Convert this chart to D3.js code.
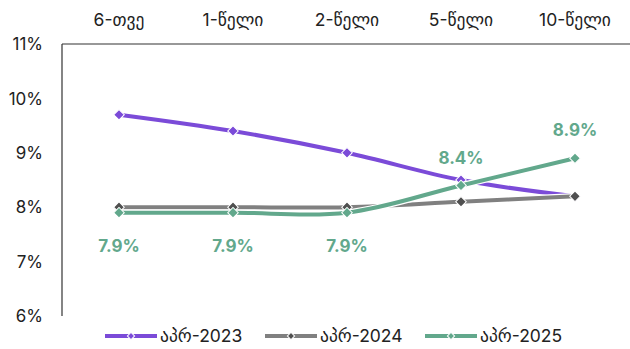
<!DOCTYPE html>
<html><head><meta charset="utf-8">
<script src="https://cdn.jsdelivr.net/npm/d3@7"></script>
<style>body{margin:0;background:#fff}svg{display:block;font-family:Inter,"DejaVu Sans",sans-serif}</style>
</head><body><svg id="c" width="630" height="349"></svg>
<script>
const categories = ["6-თვე","1-წელი","2-წელი","5-წელი","10-წელი"];
const seriesNames = ["აპრ-2023","აპრ-2024","აპრ-2025"];
const apr2023 = [9.7, 9.4, 9.0, 8.5, 8.2];
const apr2024 = [8.0, 8.0, 8.0, 8.1, 8.2];
const apr2025 = [7.9, 7.9, 7.9, 8.4, 8.9];
const yTicks = [6,7,8,9,10,11];
const colors = ["#7B4BD8","#808080","#62A88C"];
const markerColors = ["#7B4BD8","#505050","#62A88C"];

const svg = d3.select("#c");
const x = d3.scaleBand().domain(categories).range([62,632]);
const y = d3.scaleLinear().domain([6,11]).range([316,44]);
const cx = c => x(c) + x.bandwidth()/2;

svg.append("line").attr("x1",62).attr("x2",630).attr("y1",y(11)).attr("y2",y(11)).attr("stroke","#333").attr("stroke-width",1.2);
svg.append("line").attr("x1",62).attr("x2",62).attr("y1",y(11)).attr("y2",y(6)).attr("stroke","#333").attr("stroke-width",1.2);

svg.selectAll(".yt").data(yTicks).enter().append("text")
  .attr("x",43).attr("y",d=>y(d)).attr("dy","0.36em").attr("text-anchor","end")
  .attr("font-size",17).attr("fill","#222").text(d=>d+"%");

svg.selectAll(".xt").data(categories).enter().append("text")
  .attr("x",d=>cx(d)).attr("y",26).attr("text-anchor","middle")
  .attr("font-size",17.5).attr("fill","#222").text(d=>d);

const data = [apr2023, apr2024, apr2025];
const line = d3.line().x((d,i)=>cx(categories[i])).y(d=>y(d)).curve(d3.curveCatmullRom.alpha(0.5));
const diamond = d3.symbol().type(d3.symbolSquare).size(56);

data.forEach((vals,k)=>{
  const g = svg.append("g");
  g.append("path").attr("d",line(vals)).attr("fill","none").attr("stroke","#fff").attr("stroke-width",6.5);
  g.append("path").attr("d",line(vals)).attr("fill","none").attr("stroke",colors[k]).attr("stroke-width",4);
  g.selectAll("path.m").data(vals).enter().append("path").attr("class","m")
    .attr("transform",(d,i)=>`translate(${cx(categories[i])},${y(d)}) rotate(45)`)
    .attr("d",diamond).attr("fill",markerColors[k]).attr("stroke","#fff").attr("stroke-width",1);
});

const labelOffsets = [33, 33, 33, -28, -28];
svg.selectAll(".dl").data(apr2025).enter().append("text")
  .attr("x",(d,i)=>cx(categories[i])).attr("y",(d,i)=>y(d)+labelOffsets[i]).attr("dy","0.36em")
  .attr("text-anchor","middle").attr("font-size",17).attr("font-weight","bold")
  .attr("fill","#62A88C").text(d=>d.toFixed(1)+"%");

const legX = [105, 265, 425];
seriesNames.forEach((n,k)=>{
  const g = svg.append("g").attr("transform",`translate(${legX[k]},336)`);
  g.append("line").attr("x1",0).attr("x2",52).attr("stroke",colors[k]).attr("stroke-width",4);
  g.append("path").attr("transform","translate(26,0) rotate(45)").attr("d",d3.symbol().type(d3.symbolSquare).size(26)).attr("fill",markerColors[k]).attr("stroke","#fff").attr("stroke-width",1);
  g.append("text").attr("x",55).attr("dy","0.36em").attr("font-size",17.5).attr("fill","#222").text(n);
});
</script></body></html>
